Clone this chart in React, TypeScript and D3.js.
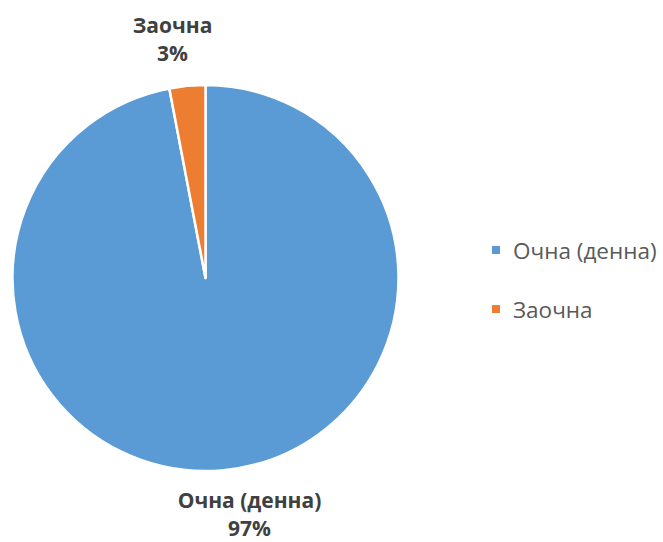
import React, { useEffect, useRef } from 'react';
import * as d3 from 'd3';

const categories = ['Очна (денна)', 'Заочна'];
const values = [97, 3];
const colors = ['#5B9BD5', '#ED7D31'];

export default function App() {
  const svgRef = useRef<SVGSVGElement>(null);

  useEffect(() => {
    if (!svgRef.current) return;
    const svg = d3.select(svgRef.current);
    svg.selectAll('*').remove();

    const cx = 205.5, cy = 278, r = 193;
    const font = "'Open Sans', sans-serif";

    const data = categories.map((c, i) => ({ name: c, value: values[i], color: colors[i] }));
    const pie = d3.pie<typeof data[0]>().value(d => d.value).sort(null);
    const arcs = pie(data);
    const arc = d3.arc<d3.PieArcDatum<typeof data[0]>>().innerRadius(0).outerRadius(r);

    const g = svg.append('g').attr('transform', `translate(${cx},${cy})`);
    g.selectAll('path')
      .data(arcs)
      .join('path')
      .attr('d', arc)
      .attr('fill', d => d.data.color)
      .attr('stroke', '#fff')
      .attr('stroke-width', 2.5)
      .attr('stroke-linejoin', 'round');

    // data labels, placed like Excel's best-fit labels
    const labelPos = [
      { x: 44, y: 230 },
      { x: -33, y: -245 },
    ];
    const total = d3.sum(values);
    arcs.forEach((a, i) => {
      const p = labelPos[i];
      const t = g.append('text')
        .attr('text-anchor', 'middle')
        .attr('font-family', font)
        .attr('font-weight', 700)
        .attr('font-size', 21)
        .attr('fill', '#404040');
      t.append('tspan').attr('x', p.x).attr('y', p.y).text(a.data.name);
      t.append('tspan').attr('x', p.x).attr('y', p.y + 28)
        .text(`${Math.round((a.data.value / total) * 100)}%`);
    });

    // legend
    const legend = svg.append('g').attr('transform', 'translate(492,0)');
    const ly = d3.scalePoint<string>().domain(categories).range([250, 309]);
    const items = legend.selectAll('g').data(data).join('g')
      .attr('transform', d => `translate(0,${ly(d.name)})`);
    items.append('rect')
      .attr('x', 0).attr('y', -4).attr('width', 8).attr('height', 8)
      .attr('fill', d => d.color);
    items.append('text')
      .attr('x', 21).attr('y', 0).attr('dy', '0.38em')
      .attr('font-family', font)
      .attr('font-size', 22.5)
      .attr('fill', '#595959')
      .text(d => d.name);
  }, []);

  return (
    <svg ref={svgRef} width={663} height={542}
      style={{ position: 'absolute', left: 0, top: 0, background: '#fff' }} />
  );
}
